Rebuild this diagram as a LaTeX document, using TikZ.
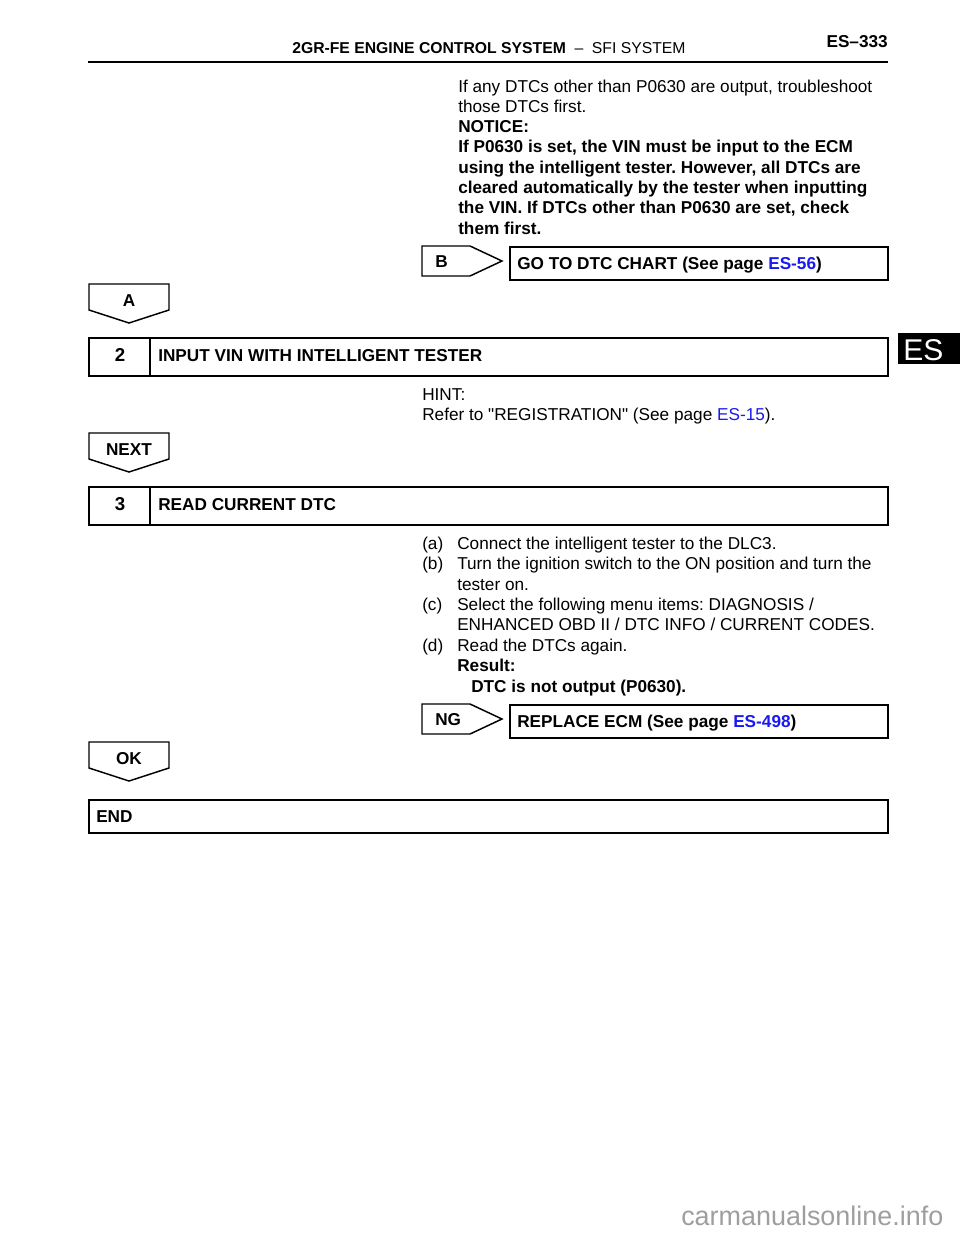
\documentclass[tikz,border=0pt]{standalone}
\usepackage{fontspec}
\setmainfont{Liberation Sans}
\usepackage{xcolor}
\usepackage{tikz}
\usetikzlibrary{positioning, calc}
\definecolor{linkblue}{rgb}{0.1,0.1,0.95}
\definecolor{markgray}{rgb}{0.62,0.62,0.62}
\frenchspacing

\tikzset{
    txt/.style={anchor=base west, inner sep=0pt, font=\fontsize{12.9}{15.2}\selectfont},
    boldtxt/.style={txt, font=\fontsize{12.9}{15.2}\selectfont\bfseries},
    boxline/.style={line width=1.5pt},
    tagline/.style={line width=1.1pt}
}

\begin{document}
\begin{tikzpicture}[x=0.75pt, y=-0.75pt]
    \useasboundingbox (0,0) rectangle (960,1242);

    % page head
    \node[txt, font=\fontsize{11.8}{14}\selectfont] (head) at (292,53)
        {\textbf{2GR-FE ENGINE CONTROL SYSTEM}\hspace{0.55em}--\hspace{0.55em}SFI SYSTEM};
    \node[boldtxt, anchor=base east] (pageno) at (888,47) {ES--333};
    \draw[line width=1.6pt] (88,62) -- (888,62);
    \fill (898,333) rectangle (960,364);
    \node[txt, font=\fontsize{22.5}{24}\selectfont, text=white] (tab) at (903,360) {ES};

    % notice text
    \foreach \t [count=\i] in {
        {If any DTCs other than P0630 are output, troubleshoot},
        {those DTCs first.},
        {\bfseries NOTICE:},
        {\bfseries If P0630 is set, the VIN must be input to the ECM},
        {\bfseries using the intelligent tester. However, all DTCs are},
        {\bfseries cleared automatically by the tester when inputting},
        {\bfseries the VIN. If DTCs other than P0630 are set, check},
        {\bfseries them first.}}
        \node[txt] (notice-\i) at (458,{92+20.3*(\i-1)}) {\t};

    % down tags
    \foreach \y/\m in {284/A, 433/NEXT, 742/OK}{
        \draw[tagline] (89,\y) -- (169,\y) -- (169,\y+26) -- (129,\y+39) -- (89,\y+26) -- cycle;
        \node[boldtxt, anchor=base] (tag-\m) at (129,\y+22) {\m};
    }

    % side tags
    \foreach \y/\m in {246/B, 704/NG}{
        \draw[tagline] (422,\y) -- (470,\y) -- (502,\y+15) -- (470,\y+30) -- (422,\y+30) -- cycle;
        \node[boldtxt] (tag-\m) at (435,\y+21) {\m};
    }

    \foreach \y/\n/\t in {
        247/goto/{GO TO DTC CHART (See page \textcolor{linkblue}{ES-56})},
        705/ecm/{REPLACE ECM (See page \textcolor{linkblue}{ES-498})}}{
        \draw[boxline] (510,\y) rectangle (888,\y+33);
        \node[boldtxt] (\n) at (517,\y+22) {\t};
    }

    % step boxes
    \foreach \y/\n/\t in {
        338/2/{INPUT VIN WITH INTELLIGENT TESTER},
        487/3/{READ CURRENT DTC}}{
        \draw[boxline] (89,\y) rectangle (888,\y+38);
        \draw[boxline] (150,\y) -- (150,\y+38);
        \node[txt, anchor=base, font=\fontsize{14}{16}\selectfont\bfseries] (num-\n) at (120,\y+23) {\n};
        \node[boldtxt] (step-\n) at (158,\y+23) {\t};
    }

    \node[txt] (hint) at (422,400) {HINT:};
    \node[txt] (refer) at (422,420) {Refer to \textquotedbl REGISTRATION\textquotedbl{} (See page \textcolor{linkblue}{ES-15}).};

    % read dtc items
    \foreach \y/\m/\t in {
        549/a/{Connect the intelligent tester to the DLC3.},
        569/b/{Turn the ignition switch to the ON position and turn the},
        610/c/{Select the following menu items: DIAGNOSIS /},
        651/d/{Read the DTCs again.}}{
        \node[txt] (lbl-\m) at (422,\y) {(\m)};
        \node[txt] (item-\m) at (457,\y) {\t};
    }
    \foreach \y/\n/\t in {
        590/b/{tester on.},
        630/c/{ENHANCED OBD II / DTC INFO / CURRENT CODES.}}
        \node[txt] (more-\n) at (457,\y) {\t};
    \node[boldtxt] (result) at (457,671) {Result:};
    \node[boldtxt] (resval) at (471,692) {DTC is not output (P0630).};

    \draw[boxline] (89,800) rectangle (888,833);
    \node[boldtxt] (end) at (96,822) {END};

    \node[txt, font=\fontsize{20.2}{22}\selectfont, text=markgray] (mark) at (681,1225) {carmanualsonline.info};
\end{tikzpicture}
\end{document}
